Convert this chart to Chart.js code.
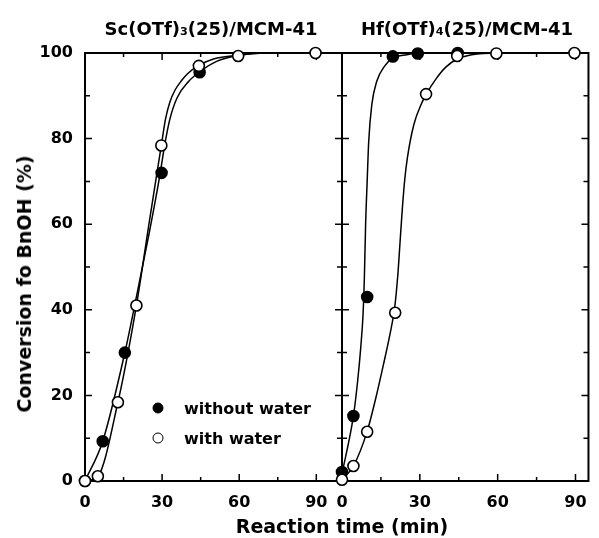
<!DOCTYPE html>
<html>
<head>
<meta charset="utf-8">
<script src="https://cdn.jsdelivr.net/npm/chart.js@4.4.0/dist/chart.umd.min.js"></script>
<style>
  body { margin: 0; background: #fff; }
  #wrap { position: relative; width: 599px; height: 538px; font-family: 'DejaVu Sans', sans-serif; font-weight: bold; color: #000; }
  canvas { position: absolute; left: 0; top: 0; }
  .lbl { position: absolute; white-space: nowrap; transform: translate(-50%, -50%); }
  .ttl { font-size: 18px; }
  .ttl span { font-size: 0.62em; }
  .axt { font-size: 19px; }
  .leg { position: absolute; font-size: 16px; white-space: nowrap; transform: translateY(-50%); }
  .dot { position: absolute; width: 9px; height: 9px; border: 1.5px solid #000; border-radius: 50%; transform: translate(-50%, -50%); }
</style>
</head>
<body>
<div id="wrap">
  <canvas id="scChart" width="599" height="538"></canvas>
  <canvas id="hfChart" width="599" height="538"></canvas>
  <div class="lbl ttl" style="left:211px; top:28px;">Sc(OTf)<span>3</span>(25)/MCM-41</div>
  <div class="lbl ttl" style="left:467px; top:28px;">Hf(OTf)<span>4</span>(25)/MCM-41</div>
  <div class="lbl axt" style="left:342px; top:526px;">Reaction time (min)</div>
  <div class="lbl axt" style="left:24px; top:284px; transform: translate(-50%, -50%) rotate(-90deg);">Conversion fo BnOH (%)</div>
  <div class="dot" style="left:158px; top:408px; background:#000;"></div>
  <div class="leg" style="left:184px; top:408px;">without water</div>
  <div class="dot" style="left:158px; top:438px; background:#fff;"></div>
  <div class="leg" style="left:184px; top:438px;">with water</div>
</div>
<script>
// Sc(OTf)3(25)/MCM-41 - measured points
const scTimeDry = [0, 6.9, 15.5, 29.8, 44.6];
const scConvDry = [0, 9.3, 30, 72, 95.5];
const scTimeWet = [0, 5, 12.8, 20, 29.7, 44.3, 59.6, 89.7];
const scConvWet = [0, 1.1, 18.4, 41, 78.4, 97, 99.3, 100];
// Sc curves
const scFitTimeDry = [0, 6.9, 15.5, 20, 25, 29, 31, 33, 35.8, 40.4, 44.6, 51.4, 60, 70, 90];
const scFitConvDry = [0, 9.3, 30, 43, 58, 71, 78.5, 84.5, 89.5, 93.4, 95.6, 98.1, 99.5, 100, 100];
const scFitTimeWet = [0, 5, 12.8, 20, 25, 29.7, 31.3, 33, 35, 37.5, 40, 44.3, 50, 60, 70, 90];
const scFitConvWet = [0, 1.1, 18.4, 41, 60.5, 78.4, 84.5, 88.5, 91.3, 93.5, 95.2, 97.1, 98.6, 99.5, 100, 100];

// Hf(OTf)4(25)/MCM-41 - measured points
const hfTimeDry = [0, 4.4, 9.7, 19.6, 29.2, 44.6];
const hfConvDry = [2.1, 15.2, 43, 99.2, 99.9, 100];
const hfTimeWet = [0, 4.4, 9.7, 20.5, 32.4, 44.4, 59.5, 89.6];
const hfConvWet = [0.3, 3.5, 11.5, 39.3, 90.4, 99.3, 99.9, 100];
// Hf curves
const hfFitTimeDry = [0, 4.4, 6, 7.2, 8.1, 8.6, 9.1, 9.7, 10.3, 11.5, 13.4, 16.5, 19.6, 25, 30, 45];
const hfFitConvDry = [1.7, 15.2, 23.2, 31, 38.8, 47, 59.9, 70, 79.4, 88, 93.4, 97, 98.8, 99.6, 100, 100];
const hfFitTimeWet = [0, 4.4, 9.7, 12.8, 15.9, 18.4, 20.3, 21.5, 22.4, 23.3, 24.2, 25.2, 27.7, 30.8, 32.4, 36.3, 40, 44.4, 50, 60, 90];
const hfFitConvWet = [0.3, 3.5, 11.6, 18.8, 27, 34, 40.5, 48, 56, 64, 70.5, 75.5, 83.3, 88.4, 90.3, 94, 96.7, 98.6, 99.6, 100, 100];

// ticks
const xTicksMajor = [0, 30, 60, 90];
const xTicksMinor = [15, 45, 75];
const yTicksMajor = [0, 20, 40, 60, 80, 100];
const yTicksMinor = [10, 30, 50, 70, 90];

const pts = (xs, ys) => xs.map((x, i) => ({ x: x, y: ys[i] }));

Chart.defaults.font.family = "'DejaVu Sans', sans-serif";
Chart.defaults.font.weight = 'bold';
Chart.defaults.font.size = 16;
Chart.defaults.color = '#000';

// frame and inward ticks on all four sides
const frameTicks = {
  id: 'frameTicks',
  beforeDatasetsDraw(chart) {
    const { ctx, chartArea: a, scales: { x, y } } = chart;
    ctx.save();
    ctx.strokeStyle = '#000';
    ctx.lineWidth = 1.5;
    ctx.beginPath();
    const xt = (v, len) => {
      const px = x.getPixelForValue(v);
      ctx.moveTo(px, a.bottom); ctx.lineTo(px, a.bottom - len);
      ctx.moveTo(px, a.top); ctx.lineTo(px, a.top + len);
    };
    const yt = (v, len) => {
      const py = y.getPixelForValue(v);
      ctx.moveTo(a.left, py); ctx.lineTo(a.left + len, py);
      ctx.moveTo(a.right, py); ctx.lineTo(a.right - len, py);
    };
    xTicksMajor.forEach(v => xt(v, 7));
    xTicksMinor.forEach(v => xt(v, 4));
    yTicksMajor.forEach(v => yt(v, 7));
    yTicksMinor.forEach(v => yt(v, 5));
    ctx.stroke();
    ctx.lineWidth = 2;
    ctx.strokeRect(a.left, a.top, a.right - a.left, a.bottom - a.top);
    ctx.restore();
  }
};

function makeDatasets(tWet, cWet, tDry, cDry, ftWet, fcWet, ftDry, fcDry) {
  return [
    { label: 'with water', data: pts(tWet, cWet), pointRadius: 5.5, pointBackgroundColor: '#fff',
      pointBorderColor: '#000', pointBorderWidth: 1.6, showLine: false, clip: false },
    { label: 'without water', data: pts(tDry, cDry), pointRadius: 5.5, pointBackgroundColor: '#000',
      pointBorderColor: '#000', pointBorderWidth: 1.6, showLine: false, clip: false },
    { label: 'fit wet', data: pts(ftWet, fcWet), showLine: true, pointRadius: 0, borderColor: '#000',
      borderWidth: 1.5, cubicInterpolationMode: 'monotone', fill: false },
    { label: 'fit dry', data: pts(ftDry, fcDry), showLine: true, pointRadius: 0, borderColor: '#000',
      borderWidth: 1.5, cubicInterpolationMode: 'monotone', fill: false }
  ];
}

function xScale(max) {
  return {
    type: 'linear', min: 0, max: max,
    grid: { display: false, drawTicks: false },
    border: { display: false },
    afterBuildTicks: s => { s.ticks = xTicksMajor.map(v => ({ value: v })); },
    afterFit: s => { s.height = 57; },
    ticks: { padding: 12, maxRotation: 0, autoSkip: false }
  };
}

const common = {
  responsive: false,
  animation: false,
  devicePixelRatio: 1,
  plugins: { legend: { display: false }, tooltip: { enabled: false } },
  events: []
};

new Chart(document.getElementById('scChart'), {
  type: 'scatter',
  data: { datasets: makeDatasets(scTimeWet, scConvWet, scTimeDry, scConvDry,
    scFitTimeWet, scFitConvWet, scFitTimeDry, scFitConvDry) },
  options: Object.assign({}, common, {
    layout: { padding: { left: 0, right: 257, top: 53, bottom: 0 } },
    scales: {
      x: xScale(100),
      y: {
        type: 'linear', min: 0, max: 100,
        grid: { display: false, drawTicks: false },
        border: { display: false },
        afterBuildTicks: s => { s.ticks = yTicksMajor.map(v => ({ value: v })); },
        afterFit: s => { s.width = 85; },
        ticks: { padding: 12 }
      }
    }
  }),
  plugins: [frameTicks]
});

new Chart(document.getElementById('hfChart'), {
  type: 'scatter',
  data: { datasets: makeDatasets(hfTimeWet, hfConvWet, hfTimeDry, hfConvDry,
    hfFitTimeWet, hfFitConvWet, hfFitTimeDry, hfFitConvDry) },
  options: Object.assign({}, common, {
    layout: { padding: { left: 342, right: 1.5, top: 53, bottom: 0 } },
    scales: {
      x: xScale(95),
      y: { type: 'linear', min: 0, max: 100, display: false }
    }
  }),
  plugins: [frameTicks]
});
</script>
</body>
</html>
